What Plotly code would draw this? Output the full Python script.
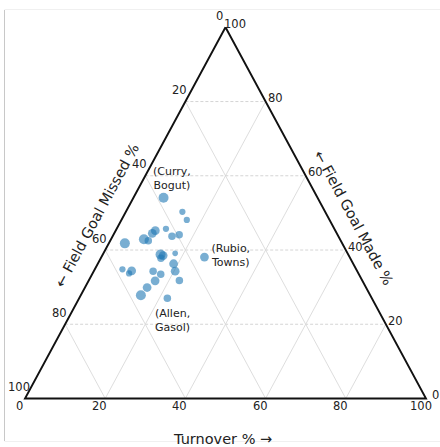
import plotly.graph_objects as go

# Lineup shot-outcome mix, in percent of possessions
fg_made = [54.1, 50.3, 48.1, 45.2, 44.5, 45.7, 43.7, 44.1, 42.9, 42.5,
           41.8, 38.8, 38.5, 37.8, 39.1, 38.1, 36.3, 34.8, 34.4, 33.7,
           34.3, 33.5, 34.3, 31.7, 31.8, 29.9, 27.8, 27.0]
fg_missed = [38.4, 35.6, 35.6, 44.9, 46.0, 42.0, 41.5, 39.5, 48.9, 48.0,
             54.2, 46.8, 46.3, 47.2, 43.0, 36.2, 44.8, 58.3, 56.2, 57.2,
             50.9, 49.4, 45.4, 51.7, 45.6, 54.6, 57.2, 51.0]
turnover = [7.5, 14.1, 16.3, 9.9, 9.5, 12.3, 14.8, 16.4, 8.2, 9.5,
            4.0, 14.4, 15.2, 15.0, 17.9, 25.7, 18.9, 6.9, 9.4, 9.1,
            14.8, 17.1, 20.3, 16.6, 22.6, 15.5, 15.0, 22.0]
# relative lineup weight (drives marker size)
weight = [8, 5, 5, 7, 7, 5, 6, 6, 8, 6,
          8, 8, 7, 6, 4.5, 7, 7, 5, 7, 5,
          6, 6, 7, 7, 6, 7, 8, 6]

# named lineups: index into the arrays above -> label
named_lineups = {0: "(Curry,<br>Bogut)", 15: "(Rubio,<br>Towns)", 27: "(Allen,<br>Gasol)"}

tick_values = [0, 20, 40, 60, 80, 100]
grid_values = [20, 40, 60, 80]

axis_titles = {
    "made": "\u2190 Field Goal Made %",
    "missed": "\u2190 Field Goal Missed %",
    "turnover": "Turnover % \u2192",
}

FONT = "DejaVu Sans"
TEXT = "#222222"
W, H = 440, 447


def to_xy(a, b, c):
    """Project (made, missed, turnover) onto the triangle plane.
    made=100 is the top vertex, missed=100 bottom-left, turnover=100 bottom-right."""
    s = a + b + c
    a, c = 100.0 * a / s, 100.0 * c / s
    return c + a / 2.0, a


fig = go.Figure()

# grid lines
for g in grid_values:
    # constant made %: horizontal, dashed
    x0, y0 = to_xy(g, 100 - g, 0)
    x1, y1 = to_xy(g, 0, 100 - g)
    fig.add_trace(go.Scatter(x=[x0, x1], y=[y0, y1], mode="lines",
                             line=dict(color="#cfcfcf", width=0.9, dash="3px,2px"),
                             hoverinfo="skip", showlegend=False))
    # constant missed %
    x0, y0 = to_xy(0, g, 100 - g)
    x1, y1 = to_xy(100 - g, g, 0)
    fig.add_trace(go.Scatter(x=[x0, x1], y=[y0, y1], mode="lines",
                             line=dict(color="#d9d9d9", width=0.9),
                             hoverinfo="skip", showlegend=False))
    # constant turnover %
    x0, y0 = to_xy(0, 100 - g, g)
    x1, y1 = to_xy(100 - g, 0, g)
    fig.add_trace(go.Scatter(x=[x0, x1], y=[y0, y1], mode="lines",
                             line=dict(color="#d9d9d9", width=0.9),
                             hoverinfo="skip", showlegend=False))

# triangle frame
corners = [to_xy(100, 0, 0), to_xy(0, 100, 0), to_xy(0, 0, 100), to_xy(100, 0, 0)]
fig.add_trace(go.Scatter(x=[p[0] for p in corners], y=[p[1] for p in corners],
                         mode="lines", line=dict(color="#111111", width=1.9),
                         hoverinfo="skip", showlegend=False))

# lineups
pts = [to_xy(a, b, c) for a, b, c in zip(fg_made, fg_missed, turnover)]
fig.add_trace(go.Scatter(
    x=[p[0] for p in pts], y=[p[1] for p in pts], mode="markers",
    marker=dict(size=[1.25 * w for w in weight], color="rgba(31,119,180,0.85)",
                line=dict(width=0)),
    showlegend=False))

annotations = []

# lineup name labels
label_shift = {0: (8.5, 19.5), 15: (26, 2), 27: (5, -22)}
for i, txt in named_lineups.items():
    x, y = pts[i]
    dx, dy = label_shift[i]
    annotations.append(dict(x=x, y=y, text=txt, showarrow=False, xshift=dx, yshift=dy,
                            xanchor="center", yanchor="middle", align="center",
                            font=dict(family=FONT, size=11, color=TEXT)))

# tick labels on the three edges (centred, pushed outward from the edge)
tick_font = dict(family=FONT, size=11.5, color=TEXT)
for t in tick_values:
    x, y = to_xy(100 - t, t, 0)  # missed % along the left edge
    annotations.append(dict(x=x, y=y, text=str(t), showarrow=False, xanchor="center",
                            yanchor="middle", xshift=-6, yshift=11.5, borderpad=0,
                            font=tick_font))
    x, y = to_xy(t, 0, 100 - t)  # made % along the right edge
    annotations.append(dict(x=x, y=y, text=str(t), showarrow=False, xanchor="center",
                            yanchor="middle", xshift=9.5, yshift=3.5, borderpad=0,
                            font=tick_font))
    x, y = to_xy(0, 100 - t, t)  # turnover % along the bottom
    annotations.append(dict(x=x, y=y, text=str(t), showarrow=False, xanchor="center",
                            yanchor="middle", xshift=-5.5, yshift=-7, borderpad=0,
                            font=tick_font))

# axis titles
title_font = dict(family=FONT, size=14.5, color=TEXT)
annotations.append(dict(xref="paper", yref="paper", x=97.5 / W, y=1 - 215.5 / H,
                        text=axis_titles["missed"], textangle=-61.7, showarrow=False,
                        xanchor="center", yanchor="middle", font=title_font))
annotations.append(dict(xref="paper", yref="paper", x=354 / W, y=1 - 217.5 / H,
                        text=axis_titles["made"], textangle=61.7, showarrow=False,
                        xanchor="center", yanchor="middle", font=title_font))
annotations.append(dict(xref="paper", yref="paper", x=222.5 / W, y=1 - 438.5 / H,
                        text=axis_titles["turnover"], showarrow=False,
                        xanchor="center", yanchor="middle", font=title_font))

# faint figure frame
shapes = [
    dict(type="line", xref="paper", yref="paper", x0=4.5 / W, x1=4.5 / W,
         y0=1 - 10 / H, y1=1 - 441 / H, line=dict(color="#c8c8c8", width=1)),
    dict(type="line", xref="paper", yref="paper", x0=4.5 / W, x1=1,
         y0=1 - 9.5 / H, y1=1 - 9.5 / H, line=dict(color="#f0f0f0", width=1)),
    dict(type="line", xref="paper", yref="paper", x0=4.5 / W, x1=1,
         y0=1 - 441.5 / H, y1=1 - 441.5 / H, line=dict(color="#f0f0f0", width=1)),
]

# axis ranges: 4.01 px per unit across, 3.712 px per unit up;
# bottom-left corner at (25, 398.5) px
kx, ky = 4.01, 3.712
fig.update_layout(
    width=W, height=H, margin=dict(l=0, r=0, t=0, b=0),
    paper_bgcolor="white", plot_bgcolor="white",
    xaxis=dict(range=[-25 / kx, (W - 25) / kx], visible=False, fixedrange=True),
    yaxis=dict(range=[-(H - 398.5) / ky, 398.5 / ky], visible=False, fixedrange=True),
    annotations=annotations, shapes=shapes, showlegend=False,
    hovermode=False,
)

fig.write_html("out.html")
